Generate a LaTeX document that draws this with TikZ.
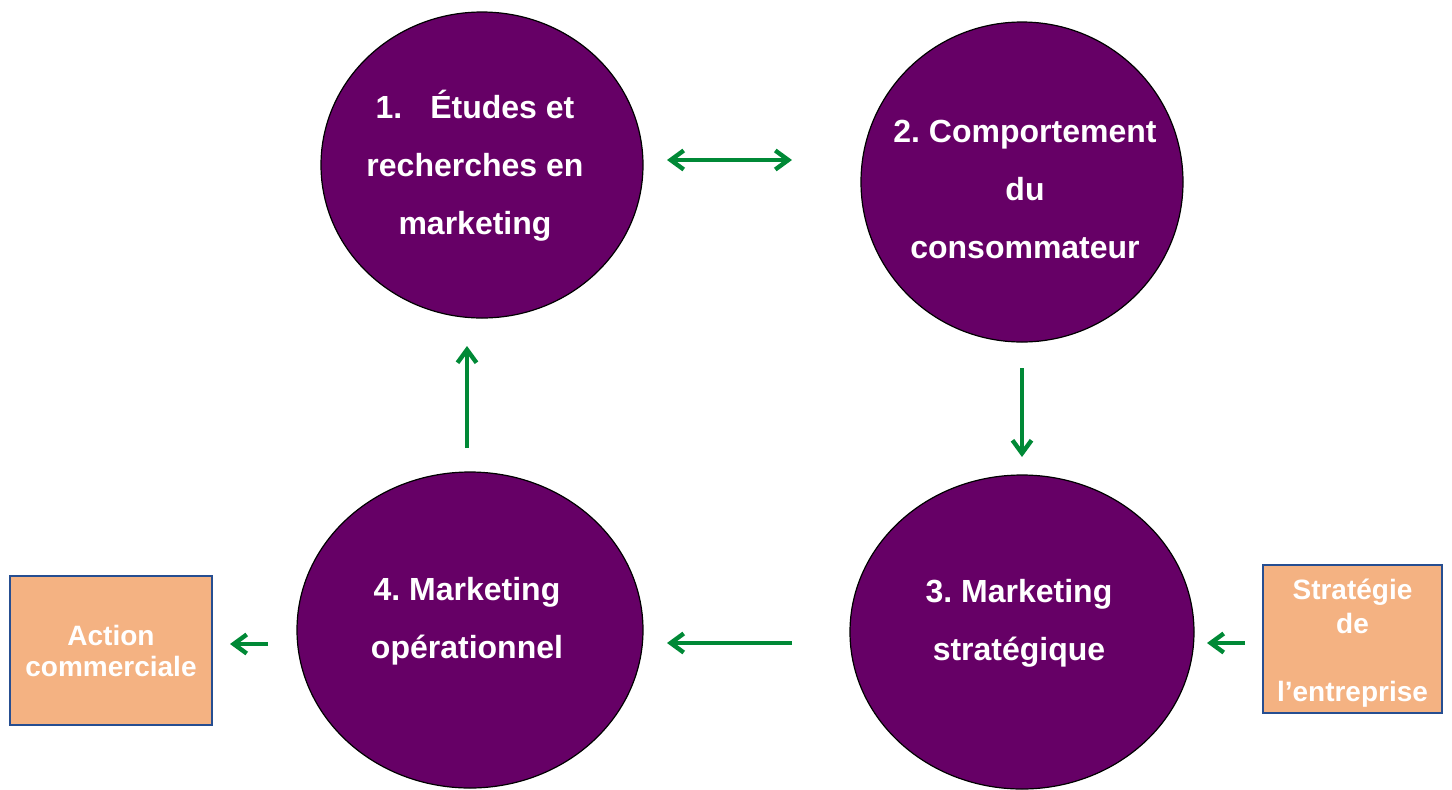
\documentclass[tikz,border=0pt]{standalone}
\usepackage{fontspec}
\setmainfont{Liberation Sans}
\usetikzlibrary{shapes.geometric,arrows.meta}
\definecolor{plum}{RGB}{102,0,102}
\definecolor{peach}{RGB}{244,178,130}
\definecolor{boxline}{RGB}{38,78,145}
\definecolor{arrowgreen}{RGB}{0,137,54}
\frenchspacing
\begin{document}
\begin{tikzpicture}[x=0.5pt,y=-0.5pt,
  stage/.style={ellipse,draw=black,line width=0.6pt,fill=plum,inner sep=0pt},
  stagetext/.style={text=white,font=\fontsize{16}{29}\selectfont\bfseries,align=center,inner sep=0pt},
  sidebox/.style={draw=boxline,line width=1.3pt,fill=peach,inner sep=0pt,text=white,align=center},
  barb/.style={Straight Barb[length=6.5pt,width=9.5pt]},
  flow/.style={draw=arrowgreen,line width=2.2pt,-{Straight Barb[length=6.5pt,width=9.5pt]}},
  twoway/.style={draw=arrowgreen,line width=2.2pt,{Straight Barb[length=6.5pt,width=9.5pt]}-{Straight Barb[length=6.5pt,width=9.5pt]}},
]
\useasboundingbox (0,0) rectangle (1452,789);

% the four stages of the cycle
\node[stage,minimum width=161pt,minimum height=153pt] (c1) at (482,165) {};
\node[stage,minimum width=161pt,minimum height=160pt] (c2) at (1022,182) {};
\node[stage,minimum width=172pt,minimum height=157pt] (c3) at (1022,632) {};
\node[stage,minimum width=173pt,minimum height=158pt] (c4) at (470,630) {};

\node[stagetext] (t1) at (475,166) {1.\hspace{14pt}Études et\\recherches en\\marketing};
\node[stagetext] (t2) at (1025,189) {2. Comportement\\du\\consommateur};
\node[stagetext] (t3) at (1019,623) {3. Marketing\\stratégique};
\node[stagetext] (t4) at (467,621) {4. Marketing\\opérationnel};

% side boxes
\node[sidebox,minimum width=101pt,minimum height=74.5pt,
      font=\fontsize{14}{15.5}\selectfont\bfseries] (act) at (111,650.5) {Action\\commerciale};
\node[sidebox,minimum width=89.5pt,minimum height=74pt,
      font=\fontsize{14}{17}\selectfont\bfseries] (strat) at (1352.5,639) {};
\node[text=white,align=center,inner sep=0pt,font=\fontsize{14}{17}\selectfont\bfseries]
      (strattext) at (1352.5,643) {Stratégie\\de\\[17pt]l’entreprise};

% arrow end points
\coordinate (a12) at (667,160);
\coordinate (a21) at (792,160);
\coordinate (a23) at (1022,368);
\coordinate (a32) at (1022,457);
\coordinate (a34) at (792,643);
\coordinate (a43) at (667,643);
\coordinate (a41) at (467,448);
\coordinate (a14) at (467,346);
\coordinate (a4a) at (268,644);
\coordinate (aa4) at (230,644);
\coordinate (as3) at (1245,643);
\coordinate (a3s) at (1207,643);

\draw[twoway] (a12) -- (a21);
\draw[flow] (a23) -- (a32);
\draw[flow] (a34) -- (a43);
\draw[flow] (a41) -- (a14);
\draw[flow] (a4a) -- (aa4);
\draw[flow] (as3) -- (a3s);
\end{tikzpicture}
\end{document}
